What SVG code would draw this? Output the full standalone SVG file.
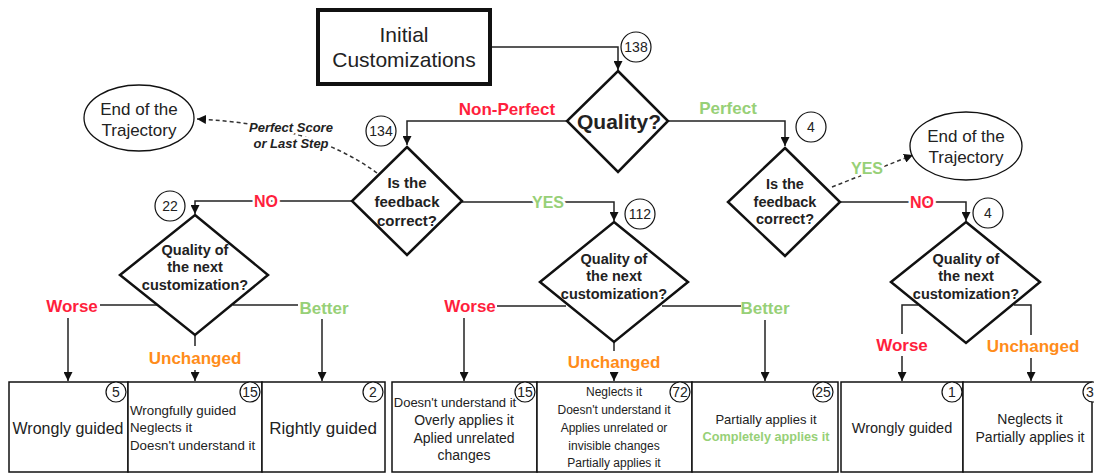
<svg xmlns="http://www.w3.org/2000/svg" width="1094" height="473" viewBox="0 0 1094 473">
<defs>
<marker id="arr" viewBox="0 0 10 10" refX="10" refY="5" markerWidth="9" markerHeight="9" markerUnits="userSpaceOnUse" orient="auto">
<path d="M0,0 L10,5 L0,10 Z" fill="#111"/>
</marker>
<style>
text{font-family:"Liberation Sans",Arial,sans-serif;fill:#222}
.dia{fill:#fff;stroke:#111;stroke-width:2.5}
.box{fill:#fff;stroke:#111;stroke-width:1.5}
.ell{fill:#fff;stroke:#111;stroke-width:1.3}
.cnt{fill:#fff;stroke:#111;stroke-width:1.2}
.ln{fill:none;stroke:#222;stroke-width:1.5}
.dash{fill:none;stroke:#333;stroke-width:1.5;stroke-dasharray:4 3}
.q{font-weight:bold;font-size:14.5px;text-anchor:middle}
.lbl{font-weight:bold;font-size:17px;text-anchor:middle}
.halo{stroke:#fff;stroke-width:5;paint-order:stroke;stroke-linejoin:round}
.red{fill:#ff1f3d}
.grn{fill:#97d077}
.org{fill:#ff8c1a}
.num{font-size:14px;text-anchor:middle}
.c{text-anchor:middle}
</style>
</defs>

<g id="connectors">
<path class="ln" d="M492,47 H618 V70" marker-end="url(#arr)"/>
<path class="ln" d="M567,121 H407 V145" marker-end="url(#arr)"/>
<path class="ln" d="M668,121 H785 V146" marker-end="url(#arr)"/>
<path class="dash" d="M377,173 Q310,124 197,119" marker-end="url(#arr)"/>
<path class="dash" d="M832,187 L913,155" marker-end="url(#arr)"/>
<path class="ln" d="M352,201 H195 V214" marker-end="url(#arr)"/>
<path class="ln" d="M462,202 H614 V221" marker-end="url(#arr)"/>
<path class="ln" d="M840,202 H966 V221" marker-end="url(#arr)"/>
<!-- left quality -->
<path class="ln" d="M157,305 H100"/>
<path class="ln" d="M68,318 V381" marker-end="url(#arr)"/>
<path class="ln" d="M233,305 H298"/>
<path class="ln" d="M322,319 V381" marker-end="url(#arr)"/>
<path class="ln" d="M195,335 V346"/>
<path class="ln" d="M195,370 V381" marker-end="url(#arr)"/>
<!-- middle quality -->
<path class="ln" d="M566,306 H497"/>
<path class="ln" d="M464,318 V381" marker-end="url(#arr)"/>
<path class="ln" d="M662,306 H741"/>
<path class="ln" d="M765,320 V381" marker-end="url(#arr)"/>
<path class="ln" d="M614,342 V351"/>
<path class="ln" d="M614,373 V381" marker-end="url(#arr)"/>
<!-- right quality -->
<path class="ln" d="M918,305 H902 V334"/>
<path class="ln" d="M902,356 V381" marker-end="url(#arr)"/>
<path class="ln" d="M1014,305 H1031 V335"/>
<path class="ln" d="M1031,358 V381" marker-end="url(#arr)"/>
</g>

<g id="labels">
<text class="lbl red" x="507" y="115">Non-Perfect</text>
<text class="lbl grn" x="728" y="114">Perfect</text>
<text class="halo" x="291" y="132" style="font-weight:bold;font-style:italic;font-size:13px;text-anchor:middle">Perfect Score</text>
<text class="halo" x="291" y="148" style="font-weight:bold;font-style:italic;font-size:13px;text-anchor:middle">or Last Step</text>
<text class="lbl grn halo" x="867" y="174" style="font-size:16px">YES</text>
<text class="lbl red halo" x="266" y="207" style="font-size:16px">NO</text>
<text class="lbl grn halo" x="548" y="208" style="font-size:16px">YES</text>
<text class="lbl red halo" x="922" y="208" style="font-size:16px">NO</text>
<text class="lbl red" x="72" y="312">Worse</text>
<text class="lbl grn" x="324" y="314">Better</text>
<text class="lbl org" x="195" y="364">Unchanged</text>
<text class="lbl red" x="470" y="312">Worse</text>
<text class="lbl grn" x="765" y="314">Better</text>
<text class="lbl org" x="614" y="368">Unchanged</text>
<text class="lbl red" x="902" y="351">Worse</text>
<text class="lbl org" x="1033" y="352">Unchanged</text>
</g>

<g id="initial">
<rect x="318" y="10" width="172" height="74" fill="#fff" stroke="#111" stroke-width="4"/>
<text class="c" x="404" y="42" style="font-size:21px">Initial</text>
<text class="c" x="404" y="67" style="font-size:21px">Customizations</text>
</g>
<g id="count138"><circle class="cnt" cx="636" cy="47" r="15"/><text class="num" x="636" y="52">138</text></g>

<g id="quality">
<path class="dia" d="M618,71 L668,121 L618,172 L567,121 Z"/>
<text x="619" y="129" style="font-weight:bold;font-size:21px;text-anchor:middle">Quality?</text>
</g>
<g id="count134"><circle class="cnt" cx="381" cy="131" r="15"/><text class="num" x="381" y="136">134</text></g>
<g id="count4a"><circle class="cnt" cx="811" cy="127" r="15"/><text class="num" x="811" y="132">4</text></g>

<g id="end-left">
<ellipse class="ell" cx="139" cy="118" rx="55" ry="33"/>
<text class="c" x="139" y="115" style="font-size:17px">End of the</text>
<text class="c" x="139" y="136" style="font-size:17px">Trajectory</text>
</g>
<g id="end-right">
<ellipse class="ell" cx="966" cy="146" rx="56" ry="34"/>
<text class="c" x="966" y="142" style="font-size:17px">End of the</text>
<text class="c" x="966" y="163" style="font-size:17px">Trajectory</text>
</g>

<g id="feedback-left">
<path class="dia" d="M407,147 L462,201 L407,255 L352,201 Z"/>
<text class="q" x="407" y="188" style="font-size:15px">Is the</text>
<text class="q" x="407" y="207" style="font-size:15px">feedback</text>
<text class="q" x="407" y="226" style="font-size:15px">correct?</text>
</g>
<g id="feedback-right">
<path class="dia" d="M785,148 L840,202 L785,256 L728,202 Z"/>
<text class="q" x="785" y="189">Is the</text>
<text class="q" x="785" y="207">feedback</text>
<text class="q" x="785" y="224">correct?</text>
</g>

<g id="count22"><circle class="cnt" cx="170" cy="206" r="15"/><text class="num" x="170" y="211">22</text></g>
<g id="count112"><circle class="cnt" cx="640" cy="214" r="15"/><text class="num" x="640" y="219">112</text></g>
<g id="count4b"><circle class="cnt" cx="988" cy="213" r="15"/><text class="num" x="988" y="218">4</text></g>

<g id="next-left">
<path class="dia" d="M195,215 L268,275 L195,335 L120,275 Z"/>
<text class="q" x="195" y="255">Quality of</text>
<text class="q" x="195" y="272">the next</text>
<text class="q" x="195" y="290">customization?</text>
</g>
<g id="next-mid">
<path class="dia" d="M614,222 L688,282 L614,342 L540,282 Z"/>
<text class="q" x="614" y="264">Quality of</text>
<text class="q" x="614" y="281">the next</text>
<text class="q" x="614" y="299">customization?</text>
</g>
<g id="next-right">
<path class="dia" d="M966,222 L1040,282 L966,343 L891,282 Z"/>
<text class="q" x="966" y="264">Quality of</text>
<text class="q" x="966" y="281">the next</text>
<text class="q" x="966" y="299">customization?</text>
</g>

<g id="box-l1">
<rect class="box" x="9" y="382" width="119" height="90"/>
<text class="c" x="68" y="434" style="font-size:16px">Wrongly guided</text>
<circle class="cnt" cx="116" cy="392" r="10"/><text class="num" x="116" y="397">5</text>
</g>
<g id="box-l2">
<rect class="box" x="128" y="382" width="134" height="90"/>
<text x="130" y="415" style="font-size:13.3px">Wrongfully guided</text>
<text x="130" y="432" style="font-size:13.3px">Neglects it</text>
<text x="130" y="450" style="font-size:13.3px">Doesn't understand it</text>
<circle class="cnt" cx="250" cy="392" r="10"/><text class="num" x="250" y="397">15</text>
</g>
<g id="box-l3">
<rect class="box" x="262" y="382" width="123" height="90"/>
<text class="c" x="323" y="434" style="font-size:17px">Rightly guided</text>
<circle class="cnt" cx="373" cy="392" r="10"/><text class="num" x="373" y="397">2</text>
</g>

<g id="box-m1">
<rect class="box" x="392" y="382" width="145" height="90"/>
<text class="c" x="455" y="407" style="font-size:13px">Doesn't understand it</text>
<text class="c" x="464" y="425" style="font-size:14px">Overly applies it</text>
<text class="c" x="464" y="443" style="font-size:14px">Aplied unrelated</text>
<text class="c" x="464" y="460" style="font-size:14px">changes</text>
<circle class="cnt" cx="525" cy="392" r="10"/><text class="num" x="525" y="397">15</text>
</g>
<g id="box-m2">
<rect class="box" x="537" y="382" width="155" height="90"/>
<text class="c" x="614" y="396" style="font-size:12px">Neglects it</text>
<text class="c" x="614" y="414" style="font-size:12px">Doesn't understand it</text>
<text class="c" x="614" y="432" style="font-size:12px">Applies unrelated or</text>
<text class="c" x="614" y="450" style="font-size:12px">invisible changes</text>
<text class="c" x="614" y="467" style="font-size:12px">Partially applies it</text>
<circle class="cnt" cx="680" cy="392" r="10"/><text class="num" x="680" y="397">72</text>
</g>
<g id="box-m3">
<rect class="box" x="692" y="382" width="146" height="90"/>
<text class="c" x="766" y="424" style="font-size:13px">Partially applies it</text>
<text class="c grn" x="766" y="441" style="font-size:12.7px;font-weight:bold">Completely applies it</text>
<circle class="cnt" cx="823" cy="392" r="10"/><text class="num" x="823" y="397">25</text>
</g>

<g id="box-r1">
<rect class="box" x="841" y="382" width="122" height="90"/>
<text class="c" x="902" y="433" style="font-size:14.5px">Wrongly guided</text>
<circle class="cnt" cx="952" cy="392" r="10"/><text class="num" x="952" y="397">1</text>
</g>
<g id="box-r2">
<rect class="box" x="963" y="382" width="129" height="90"/>
<text class="c" x="1030" y="424" style="font-size:14px">Neglects it</text>
<text class="c" x="1030" y="442" style="font-size:14px">Partially applies it</text>
<circle class="cnt" cx="1093" cy="392" r="10"/><text class="num" x="1090" y="397">3</text>
</g>
</svg>
